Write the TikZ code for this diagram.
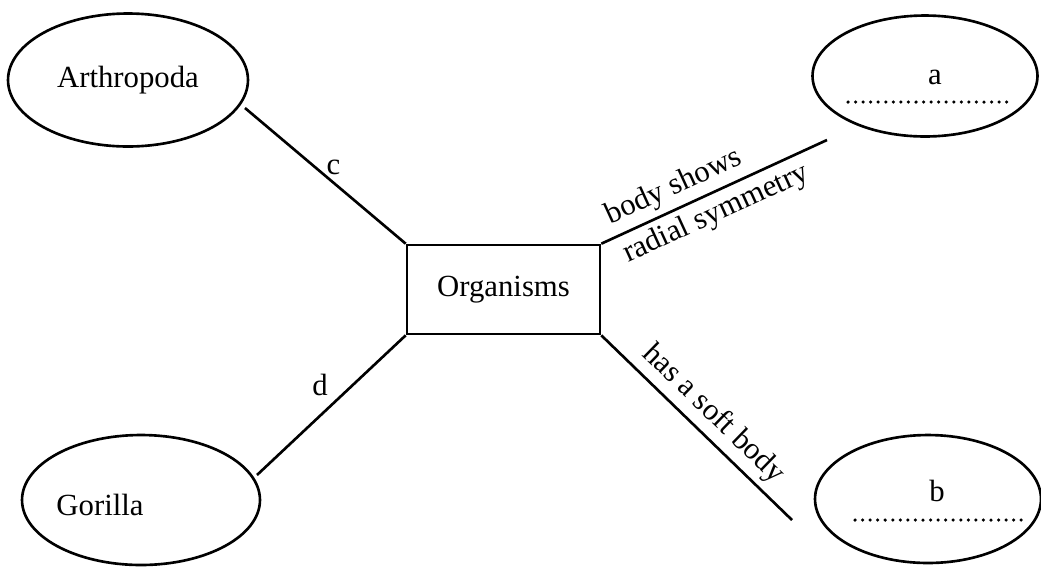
\documentclass[tikz,border=0pt]{standalone}
\usepackage{fontspec}
\setmainfont{Liberation Serif}
\usepackage{tikz}
\usetikzlibrary{shapes,shapes.geometric,calc,positioning}
\tikzset{
  grp/.style={ellipse, draw, line width=1.5pt, inner sep=0pt},
  orgbox/.style={rectangle, draw, line width=1.5pt, minimum width=3.86cm, minimum height=1.78cm, text centered},
  link/.style={line width=1.5pt},
  blank/.style={line width=2pt, dash pattern=on 0pt off 4.3pt, line cap=round},
  lbl/.style={inner sep=0pt}
}
\begin{document}
\begin{tikzpicture}[x=0.02cm, y=-0.02cm, every node/.style={font=\fontsize{17.5}{21}\selectfont}]
  \useasboundingbox (0,0) rectangle (1041,566);
  \node[grp, minimum width=4.8cm, minimum height=2.66cm] (arth) at (128,80) {Arthropoda};
  \node[grp, minimum width=4.76cm, minimum height=2.6cm] (gor) at (141,500) {};
  \node at (100,505) (gortxt) {Gorilla};
  \node[grp, minimum width=4.5cm, minimum height=2.42cm] (ea) at (925,76) {};
  \node[grp, minimum width=4.52cm, minimum height=2.56cm] (eb) at (928,499) {};
  \node[lbl] (atxt) at (935,77) {a};
  \node[lbl] (btxt) at (937,491) {b};
  \draw[blank] (848,102) -- (1013,102);
  \draw[blank] (855,520) -- (1023,520);
  \node[orgbox] (org) at (503.5,289.5) {Organisms};
  \coordinate (c1) at (245,108);
  \coordinate (d1) at (257,475);
  \coordinate (a1) at (827,140);
  \coordinate (b1) at (792,520);
  \draw[link] (c1) -- node[pos=0.5, above right, inner sep=0pt] {c} (org.north west);
  \draw[link] (d1) -- node[pos=0.52, above left, inner sep=3pt] {d} (org.south west);
  \draw[link] (org.north east) -- node[pos=0.36, sloped, above] {body shows}
    node[pos=0.47, sloped, below] {radial symmetry} (a1);
  \draw[link] (org.south east) -- node[pos=0.51, sloped, above] {has a soft body} (b1);
\end{tikzpicture}
\end{document}
